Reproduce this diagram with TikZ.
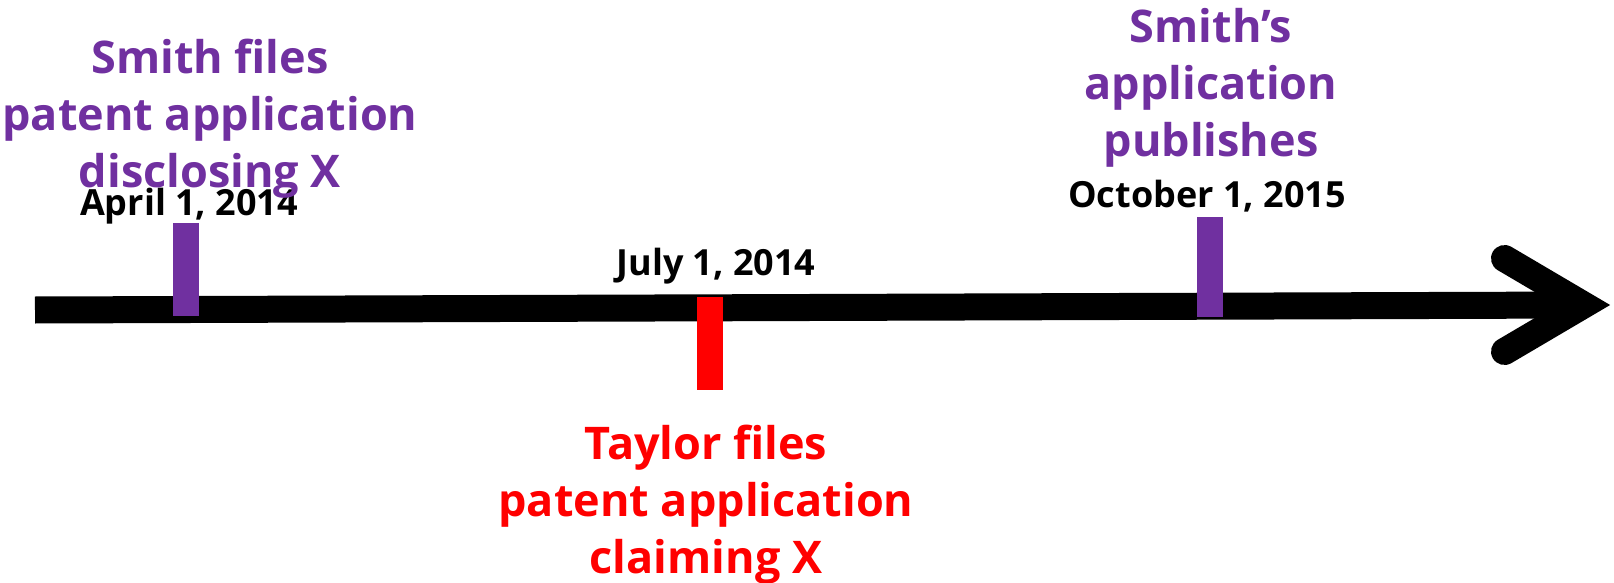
\documentclass[tikz,border=0pt]{standalone}
\usepackage{fontspec}
\setmainfont{Open Sans}
\definecolor{evpurple}{HTML}{7030A0}
\definecolor{evred}{HTML}{FF0000}
\begin{document}
\begin{tikzpicture}[x=1pt,y=-1pt,
  datebar/.style={fill=#1, draw=none, inner sep=0pt, minimum width=26pt, anchor=north},
  event/.style={align=center, font=\bfseries\fontsize{45}{57}\selectfont, anchor=base, text=#1, inner sep=0pt},
  datelabel/.style={font=\bfseries\fontsize{36}{40}\selectfont, anchor=base, inner sep=0pt},
  axis/.style={line width=27pt}]
\useasboundingbox (0,0) rectangle (1614,583);
% time axis with an open arrowhead
\coordinate (axisL) at (35,310);
\coordinate (axisR) at (1583,305);
\draw[axis] (axisL) -- (axisR);
\coordinate (headA) at (1504.5,258.5);
\coordinate (headT) at (1583.5,305);
\coordinate (headB) at (1504.5,351.5);
\draw[axis, line cap=round, line join=miter] (headA) -- (headT) -- (headB);
% date markers
\node[datebar=evpurple, minimum height=93pt] (barApr) at (186,223) {};
\node[datebar=evred, minimum height=93pt] (barJul) at (710,297) {};
\node[datebar=evpurple, minimum height=100pt] (barOct) at (1210,217) {};
% dates
\node[datelabel] (dApr) at (189,215) {April 1, 2014};
\node[datelabel] (dJul) at (716,275) {July 1, 2014};
\node[datelabel] (dOct) at (1207,207) {October 1, 2015};
% events (anchored at the baseline of the last line)
\node[event=evpurple] (eSmith) at (210,187) {Smith files\\patent application\\disclosing X};
\node[event=evred] (eTaylor) at (706,573) {Taylor files\\patent application\\claiming X};
\node[event=evpurple] (ePub) at (1211,157) {Smith’s\\application\\publishes};
\end{tikzpicture}
\end{document}
